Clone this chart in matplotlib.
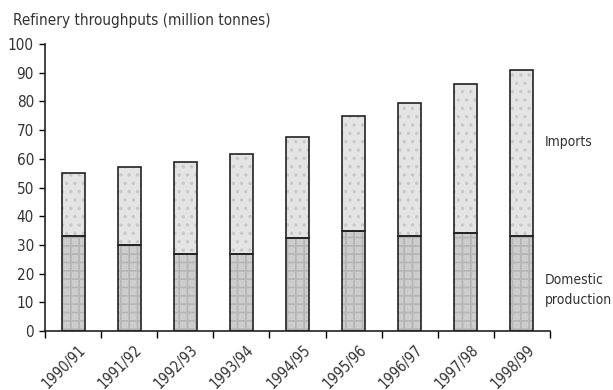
import matplotlib
matplotlib.use("Agg")
import matplotlib.pyplot as plt
import matplotlib.transforms as mtransforms
import numpy as np

years = ["1990/91", "1991/92", "1992/93", "1993/94", "1994/95",
         "1995/96", "1996/97", "1997/98", "1998/99"]
domestic = [33, 30, 27, 27, 32.5, 35, 33, 34, 33]
totals = [55, 57, 59, 61.5, 67.5, 75, 79.5, 86, 91]
imports = [t - d for t, d in zip(totals, domestic)]
yticks = [0, 10, 20, 30, 40, 50, 60, 70, 80, 90, 100]

plt.rcParams['font.family'] = ['DejaVu Sans']
plt.rcParams['font.stretch'] = 'condensed'
plt.rcParams['hatch.linewidth'] = 1.2
txtc = '#333333'

fig = plt.figure(figsize=(6.13, 3.90), dpi=100)
ax = fig.add_axes([45/613, 59/390, 505/613, 287/390])

x = np.arange(len(years)) + 0.5
w = 0.41

plt.rcParams['hatch.color'] = '#b0b0b0'
ax.bar(x, domestic, width=w, color='#cdcdcd', hatch='++', edgecolor='#b5b5b5', linewidth=0)
ax.bar(x, imports, width=w, bottom=domestic, color='#e4e4e4', hatch='..', edgecolor='#c8c8c8', linewidth=0)
# outlines
ax.bar(x, domestic, width=w, fill=False, edgecolor='#222222', linewidth=1.2)
ax.bar(x, imports, width=w, bottom=domestic, fill=False, edgecolor='#222222', linewidth=1.2)

ax.set_xlim(0, 9)
ax.set_ylim(0, 100)
ax.set_yticks(yticks)
ax.set_yticklabels([str(v) for v in yticks], color=txtc, fontsize=11, fontstretch='condensed')
ax.tick_params(axis='y', length=4, width=1, direction='out', pad=4)

ax.set_xticks(np.arange(0, 10), minor=True)
ax.set_xticks(x)
ax.set_xticklabels(years, rotation=45, ha='right', rotation_mode='anchor', color=txtc,
                   fontsize=10.5, fontstretch='condensed')
ax.tick_params(axis='x', which='major', length=0, pad=8)
ax.tick_params(axis='x', which='minor', length=5, width=1, direction='out')
offset = mtransforms.ScaledTranslation(5/100, 0, fig.dpi_scale_trans)
for lab in ax.get_xticklabels():
    lab.set_transform(lab.get_transform() + offset)

for s in ['top', 'right']:
    ax.spines[s].set_visible(False)
for s in ['left', 'bottom']:
    ax.spines[s].set_color('#222222')
    ax.spines[s].set_linewidth(1.2)

ax.text(8.91, 66, "Imports", ha='left', va='center', color=txtc, fontsize=10,
        fontstretch='condensed', clip_on=False)
ax.text(8.91, 14.3, "Domestic\nproduction", ha='left', va='center', color=txtc, fontsize=10,
        fontstretch='condensed', linespacing=1.5, clip_on=False)

fig.text(13/613, 1 - 20/390, "Refinery throughputs (million tonnes)", ha='left', va='center',
         color=txtc, fontsize=11, fontstretch='condensed')

fig.savefig("out.png", dpi=100)
